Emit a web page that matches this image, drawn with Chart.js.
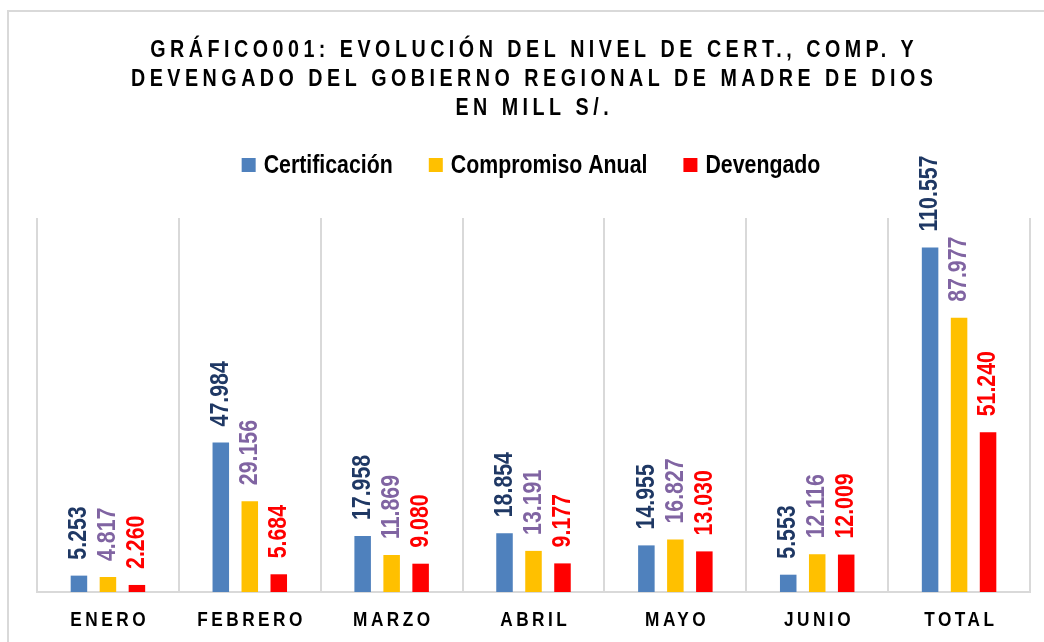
<!DOCTYPE html>
<html>
<head>
<meta charset="utf-8">
<script src="https://cdn.jsdelivr.net/npm/chart.js@4.4.1/dist/chart.umd.min.js"></script>
<style>
  html, body { margin: 0; padding: 0; background: #fff; }
  #wrap { width: 1044px; height: 642px; }
</style>
</head>
<body>
<div id="wrap"><canvas id="chart" width="1044" height="642"></canvas></div>
<script>
const categories = ['ENERO', 'FEBRERO', 'MARZO', 'ABRIL', 'MAYO', 'JUNIO', 'TOTAL'];
const certificacion = [5.253, 47.984, 17.958, 18.854, 14.955, 5.553, 110.557];
const compromiso = [4.817, 29.156, 11.869, 13.191, 16.827, 12.116, 87.977];
const devengado = [2.260, 5.684, 9.080, 9.177, 13.030, 12.009, 51.240];
const seriesNames = ['Certificación', 'Compromiso Anual', 'Devengado'];
const titleLines = [
  'GRÁFICO001: EVOLUCIÓN DEL NIVEL DE CERT., COMP. Y',
  'DEVENGADO DEL GOBIERNO REGIONAL DE MADRE DE DIOS',
  'EN MILL S/.'
];

const barColors = ['#4F81BD', '#FFC000', '#FF0000'];
const labelColors = ['#1F3864', '#8064A2', '#FF0000'];
const FONT = "'Liberation Sans', Arial, sans-serif";
const NARROW = 0.82; // fake Arial Narrow by squeezing Liberation Sans

// draws text squeezed horizontally; align 'left' or 'center'; spacing in screen px
function narrowText(ctx, text, x, y, size, align, spacing) {
  ctx.save();
  ctx.translate(x, y);
  ctx.scale(NARROW, 1);
  ctx.font = 'bold ' + size + 'px ' + FONT;
  ctx.letterSpacing = (spacing / NARROW) + 'px';
  ctx.textAlign = 'left';
  const w = ctx.measureText(text).width - spacing / NARROW;
  ctx.fillText(text, align === 'center' ? -w / 2 : 0, 0);
  ctx.restore();
  return w * NARROW;
}

function narrowWidth(ctx, text, size, spacing) {
  ctx.save();
  ctx.font = 'bold ' + size + 'px ' + FONT;
  ctx.letterSpacing = (spacing / NARROW) + 'px';
  const w = ctx.measureText(text).width - spacing / NARROW;
  ctx.restore();
  return w * NARROW;
}

const decorPlugin = {
  id: 'decor',
  beforeDraw(chart) {
    const ctx = chart.ctx;
    ctx.save();
    ctx.strokeStyle = '#d9d9d9';
    ctx.lineWidth = 2;
    ctx.strokeRect(8, 11, 1100, 700);
    ctx.restore();
  },
  afterDatasetsDraw(chart) {
    const ctx = chart.ctx;
    // value labels, rotated, above each bar
    chart.data.datasets.forEach((ds, di) => {
      const meta = chart.getDatasetMeta(di);
      meta.data.forEach((bar, i) => {
        ctx.save();
        ctx.fillStyle = labelColors[di];
        ctx.translate(bar.x, bar.y - 16);
        ctx.rotate(-Math.PI / 2);
        ctx.textBaseline = 'middle';
        narrowText(ctx, ds.data[i].toFixed(3), 0, 0, 26, 'left', 0);
        ctx.restore();
      });
    });
  },
  afterDraw(chart) {
    const ctx = chart.ctx;
    ctx.save();
    ctx.fillStyle = '#000';
    ctx.textBaseline = 'alphabetic';

    // title
    const ys = [57, 86, 115];
    titleLines.forEach((t, i) => narrowText(ctx, t, 532, ys[i], 24, 'center', 4.5));

    // category labels under the axis
    const xs = chart.scales.x;
    categories.forEach((c, i) => {
      narrowText(ctx, c, xs.getPixelForTick(i), 626, 21, 'center', 3.5);
    });

    // legend
    const box = 14, gapBox = 8, gapItem = 36;
    const widths = seriesNames.map(n => narrowWidth(ctx, n, 26, 0));
    const total = widths.reduce((a, w) => a + box + gapBox + w, 0) + gapItem * (seriesNames.length - 1);
    let x = 531 - total / 2;
    seriesNames.forEach((n, i) => {
      ctx.fillStyle = barColors[i];
      ctx.fillRect(x, 158, box, box);
      x += box + gapBox;
      ctx.fillStyle = '#000';
      narrowText(ctx, n, x, 173, 26, 'left', 0);
      x += widths[i] + gapItem;
    });
    ctx.restore();
  }
};

new Chart(document.getElementById('chart'), {
  type: 'bar',
  data: {
    labels: categories,
    datasets: [
      { label: seriesNames[0], data: certificacion, backgroundColor: barColors[0] },
      { label: seriesNames[1], data: compromiso, backgroundColor: barColors[1] },
      { label: seriesNames[2], data: devengado, backgroundColor: barColors[2] }
    ]
  },
  options: {
    responsive: false,
    animation: false,
    categoryPercentage: 0.613,
    barPercentage: 0.57,
    layout: { padding: { top: 218, left: 37, right: 14, bottom: 50 } },
    plugins: {
      title: { display: false },
      legend: { display: false },
      tooltip: { enabled: false }
    },
    scales: {
      x: {
        grid: { color: '#d9d9d9', lineWidth: 2, drawTicks: false, offset: true },
        border: { color: '#d9d9d9', width: 2 },
        ticks: { display: false }
      },
      y: {
        display: false,
        min: 0,
        max: 120
      }
    }
  },
  plugins: [decorPlugin]
});
</script>
</body>
</html>
